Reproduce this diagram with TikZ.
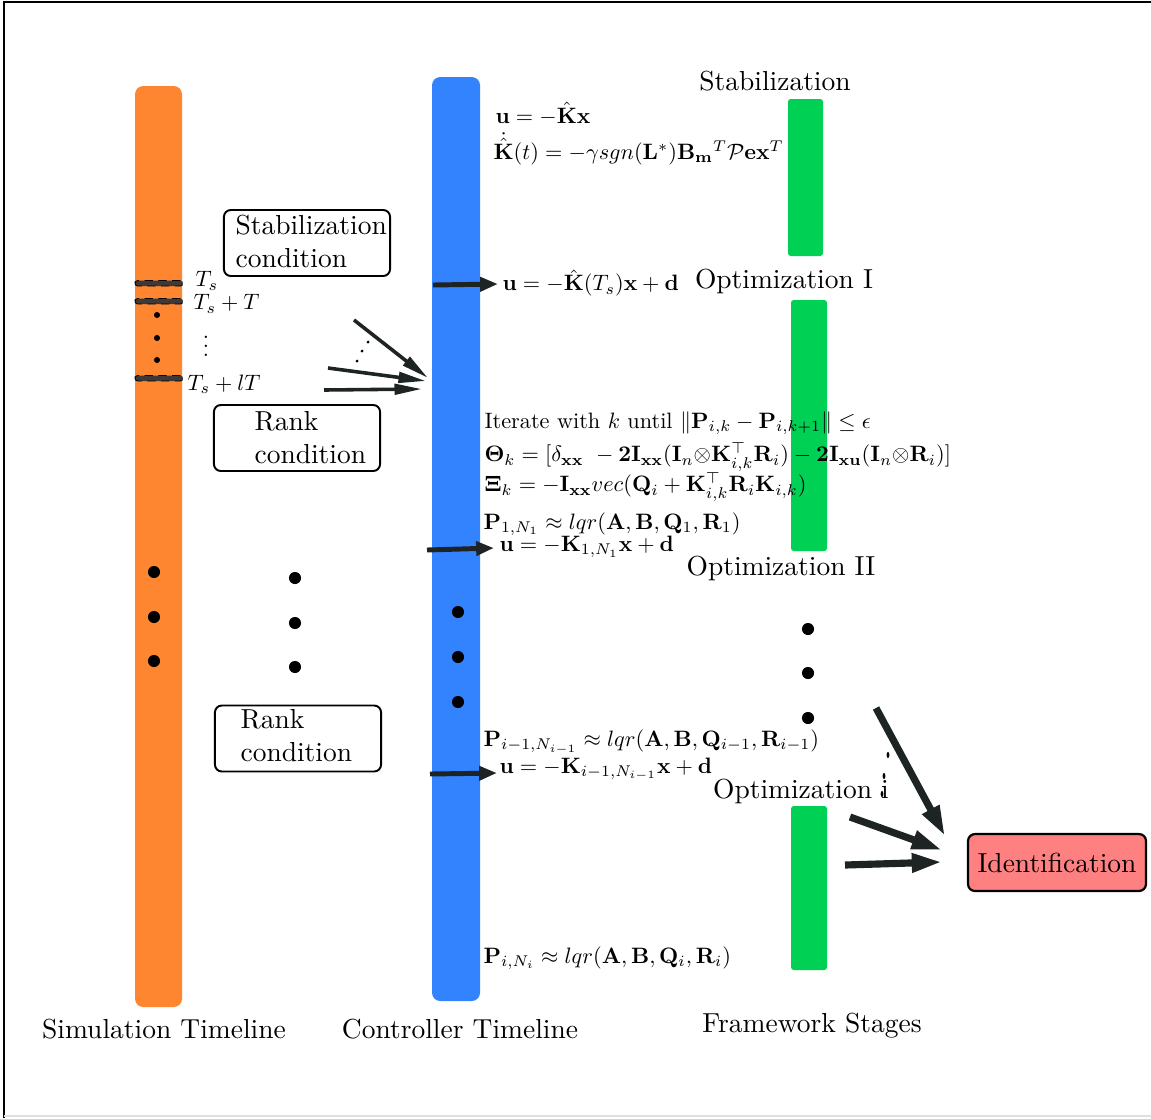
\documentclass[tikz,border=0pt]{standalone}
\usepackage{amsmath,amssymb}
\usepackage{graphicx}
\usetikzlibrary{arrows.meta}
\definecolor{barorange}{RGB}{254,134,48}
\definecolor{barblue}{RGB}{51,131,255}
\definecolor{bargreen}{RGB}{0,208,84}
\definecolor{idred}{RGB}{255,128,128}
\definecolor{arrowdark}{RGB}{30,36,36}
\definecolor{markdark}{RGB}{62,56,56}
\newcommand{\eqsc}[1]{\scalebox{0.81}{#1}}
\begin{document}
\begin{tikzpicture}[x=0.3636pt,y=-0.3636pt,
  eq/.style={anchor=west,inner sep=0pt},
  lbl/.style={inner sep=0pt},
  condbox/.style={draw,line width=0.7pt,rounded corners=2.5pt,minimum width=60.4pt,minimum height=24pt},
  condtxt/.style={anchor=west,align=left,inner sep=0pt},
  markbar/.style={draw=black,densely dashed,line width=0.3pt,fill=markdark,rounded corners=1pt},
  bigdot/.style={circle,fill=black,inner sep=0pt,minimum size=4.4pt},
  smalldot/.style={circle,fill=black,inner sep=0pt,minimum size=2.2pt},
  tinydot/.style={circle,fill=black,inner sep=0pt,minimum size=1.1pt},
  farrow/.style={draw=arrowdark,line width=1.3pt,-{Triangle[length=10pt,width=3.8pt]}},
  inarrow/.style={draw=arrowdark,line width=1.8pt,-{Triangle[length=6.5pt,width=5pt]}},
  idarrow/.style={draw=arrowdark,line width=2.6pt,-{Triangle[length=11pt,width=6.5pt]}}
]
\useasboundingbox (0,0) rectangle (1151,1118);
% frame
\draw[line width=0.9pt] (1151,2) -- (4,2) -- (4,1118);
\draw[line width=0.5pt,black!12] (4,1116) -- (1151,1116);

% bars
\fill[barorange,rounded corners=3pt] (135,86) rectangle (182,1007);
\fill[barblue,rounded corners=3pt] (432,77) rectangle (480,1001);
\fill[bargreen,rounded corners=1pt] (788,99) rectangle (823,256);
\fill[bargreen,rounded corners=1pt] (791,300) rectangle (827,551);
\fill[bargreen,rounded corners=1pt] (791,806) rectangle (827,970);

% time markers
\draw[markbar] (135,280.5) rectangle (183,286);
\draw[markbar] (135,298.5) rectangle (183,304);
\draw[markbar] (135,375.5) rectangle (183,381);
\node[smalldot] (sd1) at (157,315) {};
\node[smalldot] (sd2) at (157,338) {};
\node[smalldot] (sd3) at (157,360) {};
\node[eq] (ts) at (195,281) {\eqsc{$T_s$}};
\node[eq] (tsT) at (193,304) {\eqsc{$T_s+T$}};
\node[lbl] (tvd) at (206,340) {\eqsc{$\vdots$}};
\node[eq] (tslT) at (187,384) {\eqsc{$T_s+lT$}};

% big dots
\node[bigdot] (ld1) at (154,572) {};
\node[bigdot] (ld2) at (154,617) {};
\node[bigdot] (ld3) at (154,661) {};
\node[bigdot] (md1) at (295,578) {};
\node[bigdot] (md2) at (295,623) {};
\node[bigdot] (md3) at (295,667) {};
\node[bigdot] (bd1) at (458,612) {};
\node[bigdot] (bd2) at (458,657) {};
\node[bigdot] (bd3) at (458,702) {};
\node[bigdot] (gd1) at (808,629) {};
\node[bigdot] (gd2) at (808,673) {};
\node[bigdot] (gd3) at (808,718) {};

% condition boxes
\node[condbox] (stabbox) at (307,243) {};
\node[condtxt] (stabtxt) at (235,241) {Stabilization\\condition};
\node[condbox] (rankbox1) at (297,438) {};
\node[condtxt] (ranktxt1) at (254,438) {Rank\\condition};
\node[condbox] (rankbox2) at (298,738.5) {};
\node[condtxt] (ranktxt2) at (240,736) {Rank\\condition};

% stage labels
\node[lbl] (stab) at (775,81) {Stabilization};
\node[lbl] (opt1) at (784,281) {Optimization I};
\node[lbl] (opt2) at (781,568) {Optimization II};
\node[lbl] (opti) at (801,791) {Optimization i};
\node[draw,line width=0.8pt,fill=idred,rounded corners=2.5pt,minimum width=64.7pt,minimum height=20.7pt,inner sep=0pt] (ident) at (1057,862.5) {Identification};

% bottom labels
\node[lbl] (simtl) at (164,1029) {Simulation Timeline};
\node[lbl] (ctrltl) at (460,1029) {Controller Timeline};
\node[lbl] (fwst) at (812,1026) {Framework Stages};

% equations
\node[eq] (e1) at (495,114) {\eqsc{$\mathbf{u}=-\hat{\mathbf{K}}\mathbf{x}$}};
\node[eq] (e2) at (493,149) {\eqsc{$\dot{\hat{\mathbf{K}}}(t)=-\gamma sgn(\mathbf{L}^{*})\mathbf{B}_{\mathbf{m}}{}^{T}\mathcal{P}\mathbf{e}\mathbf{x}^{T}$}};
\node[eq] (e3) at (502,283) {\eqsc{$\mathbf{u}=-\hat{\mathbf{K}}(T_s)\mathbf{x}+\mathbf{d}$}};
\node[eq] (e4) at (484,423) {\eqsc{Iterate with $k$ until $\|\mathbf{P}_{i,k}-\mathbf{P}_{i,k+1}\|\leq\epsilon$}};
\node[eq] (e5) at (484,457) {\eqsc{$\boldsymbol{\Theta}_k=[\delta_{\mathbf{xx}}\ -\mathbf{2I}_{\mathbf{xx}}(\mathbf{I}_n{\otimes}\mathbf{K}^{\top}_{i,k}\mathbf{R}_i)-\mathbf{2I}_{\mathbf{xu}}(\mathbf{I}_n{\otimes}\mathbf{R}_i)]$}};
\node[eq] (e6) at (484,487) {\eqsc{$\boldsymbol{\Xi}_k=-\mathbf{I}_{\mathbf{xx}}vec(\mathbf{Q}_i+\mathbf{K}^{\top}_{i,k}\mathbf{R}_i\mathbf{K}_{i,k})$}};
\node[eq] (e7) at (483,524) {\eqsc{$\mathbf{P}_{1,N_1}\approx lqr(\mathbf{A},\mathbf{B},\mathbf{Q}_1,\mathbf{R}_1)$}};
\node[eq] (e8) at (499,547) {\eqsc{$\mathbf{u}=-\mathbf{K}_{1,N_1}\mathbf{x}+\mathbf{d}$}};
\node[eq] (e9) at (483,742) {\eqsc{$\mathbf{P}_{i-1,N_{i-1}}\approx lqr(\mathbf{A},\mathbf{B},\mathbf{Q}_{i-1},\mathbf{R}_{i-1})$}};
\node[eq] (e10) at (499,769) {\eqsc{$\mathbf{u}=-\mathbf{K}_{i-1,N_{i-1}}\mathbf{x}+\mathbf{d}$}};
\node[eq] (e11) at (483,958) {\eqsc{$\mathbf{P}_{i,N_i}\approx lqr(\mathbf{A},\mathbf{B},\mathbf{Q}_i,\mathbf{R}_i)$}};

% arrow end points
\coordinate (a1s) at (354,320); \coordinate (a1e) at (428,378);
\coordinate (a2s) at (328,368); \coordinate (a2e) at (426,381);
\coordinate (a3s) at (324,390); \coordinate (a3e) at (422,389);
\coordinate (b1s) at (433,285); \coordinate (b1e) at (498,284);
\coordinate (b2s) at (427,550); \coordinate (b2e) at (494,548);
\coordinate (b3s) at (430,774); \coordinate (b3e) at (497,773);
\coordinate (c1s) at (876,708); \coordinate (c1e) at (945,836);
\coordinate (c2s) at (850,817); \coordinate (c2e) at (942,850);
\coordinate (c3s) at (845,865); \coordinate (c3e) at (942,862);

\draw[farrow] (a1s) -- (a1e);
\draw[farrow] (a2s) -- (a2e);
\draw[farrow] (a3s) -- (a3e);
\node[tinydot] (ad1) at (368,342) {};
\node[tinydot] (ad2) at (362,351) {};
\node[tinydot] (ad3) at (357,361) {};

\draw[inarrow] (b1s) -- (b1e);
\draw[inarrow] (b2s) -- (b2e);
\draw[inarrow] (b3s) -- (b3e);

\draw[idarrow] (c1s) -- (c1e);
\draw[idarrow] (c2s) -- (c2e);
\draw[idarrow] (c3s) -- (c3e);
\fill (888,755) ellipse (0.5pt and 1.1pt);
\fill (884,776) ellipse (0.5pt and 1.1pt);
\fill (882,794) ellipse (0.5pt and 1.1pt);
\end{tikzpicture}
\end{document}
